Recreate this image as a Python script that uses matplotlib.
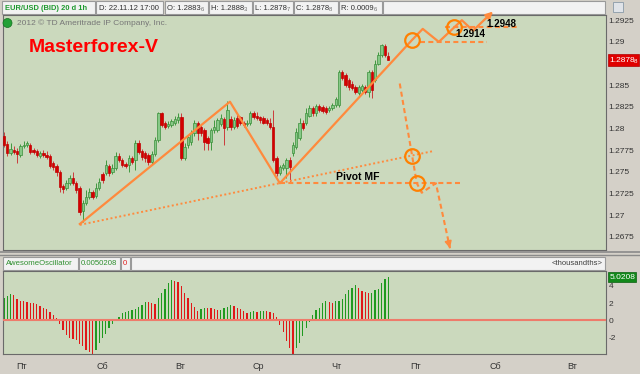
import numpy as np
import matplotlib
matplotlib.use('Agg')
from matplotlib import pyplot as plt
from matplotlib.patches import Rectangle, Ellipse
from matplotlib.transforms import blended_transform_factory

plt.rcParams['font.family'] = ['Liberation Sans', 'DejaVu Sans']

# EUR/USD 1h candles
opens = [1.2791, 1.2782, 1.2772, 1.2775, 1.2774, 1.2769, 1.2780, 1.2781, 1.2781, 1.2775,
         1.2774, 1.2768, 1.2772, 1.2769, 1.2768, 1.2760, 1.2757, 1.2750, 1.2734, 1.2731,
         1.2737, 1.2743, 1.2737, 1.2731, 1.2705, 1.2714, 1.2721, 1.2727, 1.2722, 1.2731,
         1.2748, 1.2749, 1.2757, 1.2750, 1.2754, 1.2768, 1.2764, 1.2759, 1.2758, 1.2766,
         1.2764, 1.2783, 1.2774, 1.2772, 1.2769, 1.2761, 1.2771, 1.2787, 1.2818, 1.2806,
         1.2803, 1.2804, 1.2806, 1.2810, 1.2813, 1.2766, 1.2781, 1.2784, 1.2795, 1.2806,
         1.2802, 1.2798, 1.2789, 1.2784, 1.2798, 1.2798, 1.2805, 1.2811, 1.2802, 1.2811,
         1.2802, 1.2812, 1.2813, 1.2806, 1.2805, 1.2806, 1.2818, 1.2815, 1.2813, 1.2812,
         1.2810, 1.2807, 1.2802, 1.2766, 1.2749, 1.2754, 1.2754, 1.2764, 1.2772, 1.2779,
         1.2789, 1.2807, 1.2806, 1.2815, 1.2824, 1.2818, 1.2826, 1.2825, 1.2824, 1.2821,
         1.2824, 1.2827, 1.2827, 1.2865, 1.2862, 1.2856, 1.2852, 1.2848, 1.2841, 1.2844,
         1.2848, 1.2842, 1.2865, 1.2856, 1.2875, 1.2885, 1.2895, 1.2884]
closes = [1.2781, 1.2772, 1.2776, 1.2773, 1.2771, 1.2780, 1.2781, 1.2783, 1.2773, 1.2773,
          1.2769, 1.2772, 1.2769, 1.2767, 1.2757, 1.2756, 1.2750, 1.2733, 1.2730, 1.2737,
          1.2743, 1.2737, 1.2729, 1.2704, 1.2714, 1.2721, 1.2727, 1.2721, 1.2731, 1.2738,
          1.2741, 1.2758, 1.2749, 1.2754, 1.2768, 1.2764, 1.2758, 1.2757, 1.2766, 1.2761,
          1.2783, 1.2773, 1.2767, 1.2766, 1.2761, 1.2771, 1.2787, 1.2818, 1.2804, 1.2802,
          1.2805, 1.2809, 1.2811, 1.2813, 1.2766, 1.2779, 1.2790, 1.2795, 1.2806, 1.2795,
          1.2795, 1.2784, 1.2783, 1.2798, 1.2802, 1.2810, 1.2812, 1.2801, 1.2821, 1.2802,
          1.2810, 1.2803, 1.2806, 1.2804, 1.2807, 1.2818, 1.2813, 1.2812, 1.2810, 1.2807,
          1.2806, 1.2802, 1.2764, 1.2749, 1.2756, 1.2758, 1.2764, 1.2756, 1.2781, 1.2796,
          1.2807, 1.2801, 1.2818, 1.2824, 1.2818, 1.2826, 1.2821, 1.2820, 1.2819, 1.2824,
          1.2827, 1.2834, 1.2865, 1.2858, 1.2850, 1.2848, 1.2847, 1.2842, 1.2848, 1.2849,
          1.2842, 1.2865, 1.2844, 1.2875, 1.2885, 1.2896, 1.2885, 1.2879]
highs = [1.2796, 1.2786, 1.2783, 1.2780, 1.2778, 1.2782, 1.2786, 1.2786, 1.2783, 1.2778,
         1.2776, 1.2774, 1.2775, 1.2774, 1.2771, 1.2763, 1.2759, 1.2752, 1.2736, 1.2741,
         1.2746, 1.2750, 1.2739, 1.2734, 1.2718, 1.2729, 1.2731, 1.2729, 1.2737, 1.2743,
         1.2750, 1.2764, 1.2759, 1.2759, 1.2773, 1.2772, 1.2766, 1.2761, 1.2769, 1.2768,
         1.2787, 1.2787, 1.2776, 1.2774, 1.2772, 1.2774, 1.2790, 1.2819, 1.2819, 1.2809,
         1.2809, 1.2811, 1.2814, 1.2818, 1.2818, 1.2783, 1.2792, 1.2798, 1.2810, 1.2809,
         1.2804, 1.2801, 1.2792, 1.2801, 1.2810, 1.2812, 1.2817, 1.2813, 1.2832, 1.2815,
         1.2813, 1.2817, 1.2815, 1.2809, 1.2810, 1.2820, 1.2820, 1.2819, 1.2815, 1.2814,
         1.2812, 1.2812, 1.2821, 1.2768, 1.2758, 1.2760, 1.2766, 1.2767, 1.2784, 1.2801,
         1.2812, 1.2810, 1.2824, 1.2827, 1.2826, 1.2828, 1.2828, 1.2827, 1.2826, 1.2826,
         1.2830, 1.2836, 1.2867, 1.2867, 1.2864, 1.2858, 1.2855, 1.2850, 1.2850, 1.2851,
         1.2850, 1.2867, 1.2867, 1.2879, 1.2888, 1.2898, 1.2897, 1.2888]
lows = [1.2779, 1.2768, 1.2769, 1.2771, 1.2760, 1.2767, 1.2778, 1.2779, 1.2771, 1.2771,
        1.2767, 1.2766, 1.2767, 1.2765, 1.2754, 1.2752, 1.2745, 1.2727, 1.2726, 1.2729,
        1.2735, 1.2735, 1.2726, 1.2700, 1.2692, 1.2712, 1.2719, 1.2719, 1.2720, 1.2729,
        1.2737, 1.2746, 1.2745, 1.2748, 1.2752, 1.2761, 1.2756, 1.2754, 1.2750, 1.2759,
        1.2752, 1.2771, 1.2764, 1.2761, 1.2758, 1.2759, 1.2768, 1.2784, 1.2802, 1.2799,
        1.2801, 1.2802, 1.2804, 1.2807, 1.2764, 1.2764, 1.2778, 1.2781, 1.2791, 1.2787,
        1.2791, 1.2775, 1.2775, 1.2775, 1.2795, 1.2796, 1.2803, 1.2781, 1.2798, 1.2798,
        1.2799, 1.2801, 1.2804, 1.2802, 1.2803, 1.2804, 1.2811, 1.2810, 1.2807, 1.2805,
        1.2804, 1.2799, 1.2761, 1.2745, 1.2746, 1.2752, 1.2743, 1.2738, 1.2768, 1.2776,
        1.2787, 1.2798, 1.2804, 1.2813, 1.2815, 1.2815, 1.2819, 1.2818, 1.2817, 1.2819,
        1.2821, 1.2825, 1.2825, 1.2856, 1.2848, 1.2845, 1.2844, 1.2840, 1.2839, 1.2842,
        1.2840, 1.2837, 1.2835, 1.2854, 1.2873, 1.2882, 1.2882, 1.2879]

# Awesome Oscillator, thousandths
ao = [2.6, 2.8, 3.1, 3.0, 2.5, 2.25, 2.2, 2.1, 2.05, 2.0,
      1.9, 1.7, 1.5, 1.3, 1.0, 0.65, 0.27, -0.4, -1.1, -1.65,
      -2.0, -2.2, -2.3, -2.7, -3.0, -3.4, -3.6, -3.85, -3.4, -2.6,
      -2.0, -1.6, -0.9, -0.4, 0.05, 0.45, 0.85, 1.0, 1.1, 1.2,
      1.3, 1.6, 1.8, 2.15, 2.1, 2.0, 1.95, 2.6, 3.15, 3.65,
      4.3, 4.65, 4.6, 4.4, 4.0, 3.2, 2.6, 2.0, 1.6, 1.15,
      1.3, 1.5, 1.45, 1.4, 1.35, 1.2, 1.25, 1.4, 1.6, 1.8,
      1.7, 1.45, 1.3, 1.15, 0.9, 1.0, 1.05, 1.0, 1.1, 1.15,
      1.1, 1.0, 0.85, 0.45, -0.5, -1.3, -2.4, -3.2, -3.85, -3.2,
      -2.6, -1.85, -0.9, -0.15, 0.65, 1.2, 1.4, 2.0, 2.2, 2.1,
      2.05, 2.2, 2.3, 2.5, 3.1, 3.5, 3.8, 4.1, 3.8, 3.4,
      3.3, 3.15, 3.2, 3.5, 3.6, 4.3, 4.8, 5.02]

price_ticks = [1.2675, 1.27, 1.2725, 1.275, 1.2775, 1.28, 1.2825, 1.285, 1.29, 1.2925]
ao_ticks = [-2, 0, 2, 4]
day_pos = [5.5, 29.9, 53.6, 77.4, 101.3, 125.4, 149.5, 172.9]
day_labels = ['Пт', 'Сб', 'Вт', 'Ср', 'Чт', 'Пт', 'Сб', 'Вт']

# hand drawn analysis (bar index, price)
zig_x = [23.1, 68.8, 84.0, 124.2, 127.5, 132.4, 139.4, 142.8]
zig_y = [1.2690, 1.2831, 1.2737, 1.2902, 1.2915, 1.2900, 1.2925, 1.2913]
zig_tip = (148.9, 1.2935)
trend_x = [23.1, 130.6]
trend_y = [1.2689, 1.2774]
pivot_x = [84.0, 139.4]
pivot_y = [1.2737, 1.2737]
drop_x = [120.5, 125.7, 127.2, 131.5]
drop_y = [1.2852, 1.2737, 1.2726, 1.2737]
drop_tip = (135.8, 1.2662)
lvl1_x, lvl1_y = [126.6, 147.0], 1.2900
lvl2_x, lvl2_y = [134.2, 157.1], 1.2917
circ_x = [124.2, 137.0, 124.2, 125.7]
circ_y = [1.2902, 1.2917, 1.2768, 1.2737]

W, H = 640, 374
BG = '#cbd9bd'
GREY = '#d4d0c8'
ORANGE = '#ff8a3d'
RING = '#ff8000'


def box(x0, y0, x1, y1):
    return [x0 / W, 1 - y1 / H, (x1 - x0) / W, (y1 - y0) / H]


def fx(x):
    return x / W


def fy(y):
    return 1 - y / H


fig = plt.figure(figsize=(6.4, 3.74), dpi=100, facecolor=GREY)


def hbox(x0, x1, y0, y1):
    fig.patches.append(Rectangle((fx(x0), fy(y1)), (x1 - x0) / W, (y1 - y0) / H,
                                 transform=fig.transFigure, fc='#f2f2f2', ec='#9a9a9a',
                                 lw=0.8, zorder=-1))


# top header
for x0, x1 in [(2, 95), (96, 163), (165, 208), (209, 252), (253, 293), (294, 338), (339, 382), (383, 605)]:
    hbox(x0, x1, 1, 14)
fig.text(fx(5), fy(8), 'EUR/USD (BID) 20 d 1h', color='#1f9a2f', fontsize=5.4, weight='bold', va='center')
fig.text(fx(99), fy(8), 'D: 22.11.12 17:00', color='#303030', fontsize=5.5, va='center')
for x0, s, d, w in [(167, 'O: 1.2883', '6', 33.5), (211, 'H: 1.2888', '3', 33.0),
                    (255, 'L: 1.2878', '7', 31.8), (296, 'C: 1.2878', '8', 33.0),
                    (341, 'R: 0.0009', '6', 33.0)]:
    fig.text(fx(x0), fy(8), s, color='#303030', fontsize=5.5, va='center')
    fig.text(fx(x0 + w), fy(9.2), d, color='#707070', fontsize=4.2, va='center')
fig.patches.append(Rectangle((fx(613), fy(12)), 10 / W, 10 / H, transform=fig.transFigure,
                             fc='#dfe3e8', ec='#8a9aa8', lw=0.6, zorder=-1))

# price panel
ax = fig.add_axes(box(3, 15, 606, 250), facecolor=BG)
idx = np.arange(len(closes))
o = np.array(opens)
c = np.array(closes)
up = c >= o
ax.vlines(idx, lows, highs, colors=np.where(up, '#3f9a3f', '#cc3a3a'), lw=0.7, zorder=2)
ax.bar(idx, c - o, bottom=o, width=0.72, color=np.where(up, '#86c886', '#d40000'),
       edgecolor=np.where(up, '#3a8f3a', '#c00000'), lw=0.5, zorder=3)

ax.set_xlim(-0.3, 183.3)
ax.set_ylim(1.2660, 1.2931)
ax.set_xticks([])
ax.yaxis.tick_right()
ax.set_yticks(price_ticks)
ax.set_yticklabels([('%.4f' % t).rstrip('0') for t in price_ticks])
ax.tick_params(axis='y', length=0, pad=2, labelsize=6, labelcolor='#333333')
for sp in ax.spines.values():
    sp.set_color('#6a6a6a')
    sp.set_linewidth(0.8)

# orange drawings
ax.plot(zig_x, zig_y, color=ORANGE, lw=1.6, zorder=5, clip_on=False)
ax.annotate('', xy=zig_tip, xytext=(zig_x[-1], zig_y[-1]), annotation_clip=False,
            arrowprops=dict(arrowstyle='-|>', color=ORANGE, lw=1.6, mutation_scale=10,
                            shrinkA=0, shrinkB=0), zorder=5)
ax.plot(trend_x, trend_y, color=ORANGE, lw=1.4, ls=(0, (1, 1.3)), zorder=5)
ax.plot(pivot_x, pivot_y, color=ORANGE, lw=1.5, ls=(0, (2.4, 1.6)), zorder=5)
ax.plot(lvl1_x, [lvl1_y, lvl1_y], color=ORANGE, lw=1.5, ls=(0, (2.4, 1.6)), zorder=5)
ax.plot(lvl2_x, [lvl2_y, lvl2_y], color=ORANGE, lw=1.5, ls=(0, (2.4, 1.6)), zorder=5)
ax.plot(drop_x + [drop_tip[0]], drop_y + [drop_tip[1]], color=ORANGE, lw=1.5,
        ls=(0, (2.4, 1.6)), zorder=5)
ax.annotate('', xy=drop_tip,
            xytext=(drop_tip[0] - 0.6, drop_tip[1] + 0.0009),
            arrowprops=dict(arrowstyle='-|>', color=ORANGE, lw=1.2, mutation_scale=10,
                            shrinkA=0, shrinkB=0), zorder=5)
ax.plot(circ_x, circ_y, ls='none', marker='o', ms=10.5, mfc='none', mec=RING, mew=1.6, zorder=6)

ax.text(142.0, 1.2909, '1.2914', fontsize=7, weight='bold', ha='center', va='center', zorder=7)
ax.text(151.5, 1.2921, '1.2948', fontsize=7, weight='bold', ha='center', va='center', zorder=7)
ax.text(107.6, 1.2744, 'Pivot MF', fontsize=7.5, weight='bold', ha='center', va='center', zorder=7)
ax.text(7.4, 1.2894, 'Masterforex-V', color='#ff0000', fontsize=14, weight='bold',
        va='center', ha='left', zorder=7)

# copyright line
fig.patches.append(Ellipse((fx(7.5), fy(23)), 9 / W, 9 / H, transform=fig.transFigure,
                           fc='#23a035', ec='#137020', lw=0.5, zorder=5))
fig.text(fx(7.5), fy(23.3), 'i', color='white', fontsize=5.5, weight='bold', ha='center', va='center')
fig.text(fx(17), fy(23), '2012 © TD Ameritrade IP Company, Inc.', color='#777777',
         fontsize=6, va='center')

# last price tag
tr = blended_transform_factory(ax.transAxes, ax.transData)
ax.add_patch(Rectangle((1.003, closes[-1] - 0.00068), 0.052, 0.00136, transform=tr,
                       fc='#e00000', ec='#b00000', lw=0.5, clip_on=False, zorder=8))
ax.text(1.006, closes[-1], '1.2878', transform=tr, color='white', fontsize=6,
        va='center', ha='left', zorder=9)
ax.text(1.046, closes[-1] - 0.0002, '8', transform=tr, color='white', fontsize=4.5,
        va='center', ha='left', zorder=9)

# separator between panels
fig.add_artist(plt.Line2D([0, 1], [fy(251.5), fy(251.5)], color='#8a8a8a', lw=1.2))
fig.add_artist(plt.Line2D([0, 1], [fy(255.2), fy(255.2)], color='#8a8a8a', lw=1.0))

# oscillator header
hbox(3, 78, 257, 270)
hbox(79, 120, 257, 270)
hbox(121, 130, 257, 270)
hbox(131, 605, 257, 270)
fig.text(fx(6), fy(263.5), 'AwesomeOscillator', color='#2f8f2f', fontsize=5.6, va='center')
fig.text(fx(81), fy(263.5), '0.0050208', color='#2f8f2f', fontsize=5.6, va='center')
fig.text(fx(123), fy(263.5), '0', color='#e02020', fontsize=5.6, va='center')
fig.text(fx(602), fy(263.5), '<thousandths>', color='#404040', fontsize=5.5, va='center', ha='right')

# oscillator panel
ax2 = fig.add_axes(box(3, 271, 606, 354), facecolor=BG)
ao_arr = np.array(ao)
rising = np.concatenate([[True], ao_arr[1:] > ao_arr[:-1]])
ax2.bar(idx, ao_arr, width=0.38, color=np.where(rising, '#1f9a1f', '#e01818'), lw=0, zorder=2)
ax2.axhline(0, color='#ee7b6b', lw=1.5, zorder=3)
ax2.set_xlim(-0.3, 183.3)
ax2.set_ylim(-3.88, 5.73)
ax2.yaxis.tick_right()
ax2.set_yticks(ao_ticks)
ax2.set_yticklabels([str(t) for t in ao_ticks])
ax2.set_xticks(day_pos)
ax2.set_xticklabels(day_labels)
ax2.tick_params(axis='y', length=0, pad=2, labelsize=6, labelcolor='#333333')
ax2.tick_params(axis='x', length=0, pad=6, labelsize=6.5, labelcolor='#333333')
for sp in ax2.spines.values():
    sp.set_color('#6a6a6a')
    sp.set_linewidth(0.8)

tr2 = blended_transform_factory(ax2.transAxes, ax2.transData)
ax2.add_patch(Rectangle((1.003, ao[-1] - 0.55), 0.046, 1.1, transform=tr2,
                        fc='#12881a', ec='#0a6010', lw=0.5, clip_on=False, zorder=8))
ax2.text(1.006, ao[-1], '5.0208', transform=tr2, color='white', fontsize=6,
         va='center', ha='left', zorder=9)

fig.savefig('out.png', dpi=100, facecolor=GREY)
